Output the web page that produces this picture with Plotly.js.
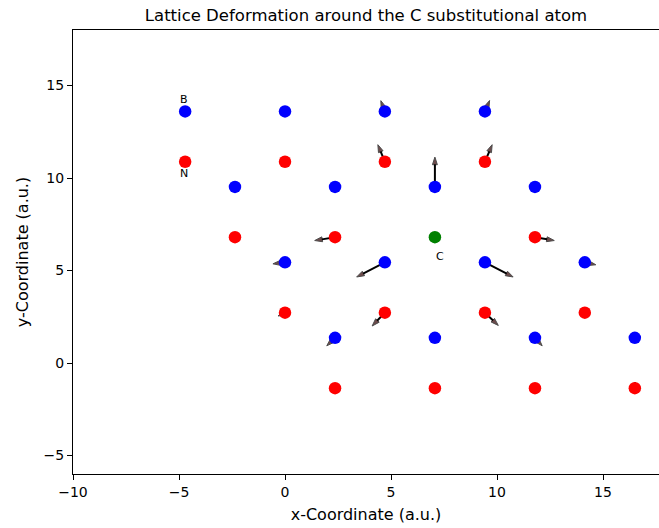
<!DOCTYPE html>
<html>
<head>
<meta charset="utf-8">
<script src="https://cdn.plot.ly/plotly-3.0.1.min.js"></script>
<style>html,body{margin:0;padding:0;background:#fff;}#chart{width:659px;height:528px;}</style>
</head>
<body>
<div id="chart"></div>
<script>
// Boron atoms (blue)
var bX = [-4.71, 0, 4.71, 9.43, -2.36, 2.36, 7.07, 11.79, 0, 4.71, 9.43, 14.14, 2.36, 7.07, 11.79, 16.5];
var bY = [13.6, 13.6, 13.6, 13.6, 9.52, 9.52, 9.52, 9.52, 5.44, 5.44, 5.44, 5.44, 1.36, 1.36, 1.36, 1.36];
// Nitrogen atoms (red)
var nX = [-4.71, 0, 4.71, 9.43, -2.36, 2.36, 11.79, 0, 4.71, 9.43, 14.14, 2.36, 7.07, 11.79, 16.5];
var nY = [10.88, 10.88, 10.88, 10.88, 6.8, 6.8, 6.8, 2.72, 2.72, 2.72, 2.72, -1.36, -1.36, -1.36, -1.36];
// Carbon substitutional atom (green)
var cX = [7.07];
var cY = [6.8];
// Displacement arrows: start (atom position) and displacement
var arrX  = [4.71, 9.43, 4.71, 7.07, 9.43, 2.36, 0, 4.71, 11.79, 9.43, 14.14, 0, 4.71, 9.43, 2.36, 11.79, 16.5];
var arrY  = [13.6, 13.6, 10.88, 9.52, 10.88, 6.8, 5.44, 5.44, 6.8, 5.44, 5.44, 2.72, 2.72, 2.72, 1.36, 1.36, -1.36];
var arrDX = [-0.19, 0.22, -0.33, 0, 0.34, -0.96, -0.57, -1.33, 0.91, 1.33, 0.52, -0.33, -0.60, 0.63, -0.39, 0.34, 0];
var arrDY = [0.58, 0.59, 0.92, 1.61, 0.92, -0.18, -0.08, -0.79, -0.18, -0.79, -0.13, -0.18, -0.72, -0.69, -0.43, -0.43, 0.33];
// Atom labels
var labText = ['B', 'N', 'C'];
var labX = [-4.75, -4.75, 7.31];
var labY = [14.27, 10.27, 5.78];

var traces = [];
for (var i = 0; i < arrX.length; i++) {
  traces.push({
    type: 'scatter', mode: 'lines+markers',
    x: [arrX[i], arrX[i] + arrDX[i]],
    y: [arrY[i], arrY[i] + arrDY[i]],
    line: {color: '#000000', width: 2},
    marker: {symbol: 'arrow', angleref: 'previous', size: [0, 8], color: '#300000', line: {color: '#000000', width: 1}},
    hoverinfo: 'skip', showlegend: false
  });
}
traces.push({type: 'scatter', mode: 'markers', x: bX, y: bY, name: 'B',
  marker: {color: '#0000ff', size: 12.5}, showlegend: false});
traces.push({type: 'scatter', mode: 'markers', x: nX, y: nY, name: 'N',
  marker: {color: '#ff0000', size: 12.5}, showlegend: false});
traces.push({type: 'scatter', mode: 'markers', x: cX, y: cY, name: 'C',
  marker: {color: '#008000', size: 12.5}, showlegend: false});

var annotations = [];
for (var j = 0; j < labText.length; j++) {
  annotations.push({x: labX[j], y: labY[j], xref: 'x', yref: 'y', text: labText[j], showarrow: false,
    xanchor: 'center', yanchor: 'middle', font: {family: 'DejaVu Sans', size: 11, color: '#000'}});
}

var layout = {
  width: 659, height: 528,
  margin: {l: 73, r: 0, t: 30, b: 54},
  paper_bgcolor: '#ffffff', plot_bgcolor: '#ffffff',
  font: {family: 'DejaVu Sans', color: '#000000'},
  title: {text: 'Lattice Deformation around the C substitutional atom', font: {family: 'DejaVu Sans', size: 16.5, color: '#000'},
    x: 0.5, xref: 'paper', xanchor: 'center', y: 1 - 15/528, yref: 'container', yanchor: 'middle'},
  xaxis: {range: [-10, 17.64], tickvals: [-10, -5, 0, 5, 10, 15], ticktext: ['\u221210', '\u22125', '0', '5', '10', '15'],
    showgrid: false, zeroline: false, showline: true, linecolor: '#000', linewidth: 1, mirror: true,
    ticks: 'outside', ticklen: 5, tickwidth: 1, tickcolor: '#000',
    tickfont: {family: 'DejaVu Sans', size: 14, color: '#000'},
    title: {text: 'x-Coordinate (a.u.)', font: {family: 'DejaVu Sans', size: 16, color: '#000'}, standoff: 10}},
  yaxis: {range: [-6, 18], tickvals: [-5, 0, 5, 10, 15], ticktext: ['\u22125', '0', '5', '10', '15'],
    showgrid: false, zeroline: false, showline: true, linecolor: '#000', linewidth: 1, mirror: false,
    ticks: 'outside', ticklen: 5, tickwidth: 1, tickcolor: '#000',
    tickfont: {family: 'DejaVu Sans', size: 14, color: '#000'},
    title: {text: 'y-Coordinate (a.u.)', font: {family: 'DejaVu Sans', size: 16, color: '#000'}, standoff: 10}},
  annotations: annotations
};

Plotly.newPlot('chart', traces, layout, {displayModeBar: false, staticPlot: true});
</script>
</body>
</html>
